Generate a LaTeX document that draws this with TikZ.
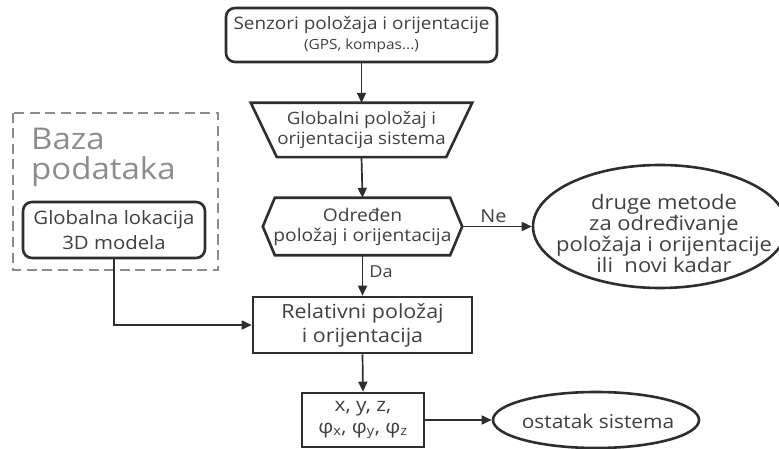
\documentclass[tikz,border=0pt]{standalone}
\usepackage{fontspec}
\setmainfont{Open Sans}[FakeStretch=1.1]
\usetikzlibrary{arrows.meta,shapes.geometric}
\definecolor{ink}{HTML}{2E2E2E}
\definecolor{txt}{HTML}{404040}
\definecolor{dbgray}{HTML}{8C8C8C}
% font size with a fixed baseline distance
\newcommand{\fsz}[2]{\fontsize{#1}{#2}\selectfont\lineskiplimit=-100pt\relax}
% centred text that does not change the size of its shape (#1 = horizontal, #2 = vertical offset)
\newcommand{\ovaltext}[3]{\smash{\makebox[0pt]{\hspace*{#1}\raisebox{#2}{\parbox[c]{300pt}{\centering #3}}}}}
\tikzset{
  x=1pt, y=-1pt,
  box/.style={draw=ink, line width=2.6pt, inner sep=0pt, text=txt, align=center,
    font=\fsz{17.5}{20}},
  roundbox/.style={box, rounded corners=9pt},
  plain/.style={inner sep=0pt, text=txt, align=center, font=\fsz{17.5}{20}},
  oval/.style={ellipse, draw=ink, line width=2.6pt, inner sep=0pt, text=txt},
  flow/.style={draw=ink, line width=1.7pt, -{Triangle[length=10pt,width=9pt]}},
  lbl/.style={text=txt, inner sep=3pt},
}
\begin{document}
\begin{tikzpicture}
\useasboundingbox (0,0) rectangle (779,449);

% sensors
\node[roundbox, minimum width=271pt, minimum height=54pt, font=\fsz{17.2}{20}]
  (senz) at (361.5,35)
  {Senzori položaja i orijentacije\\{\fsz{14}{16}(GPS, kompas...)}};

% global pose (inverted trapezium drawn around a plain node)
\node[plain, minimum width=221pt, minimum height=54pt, font=\fsz{17}{20}]
  (glob) at (361.5,130) {Globalni položaj i\\orijentacija sistema};
\draw[ink, line width=2.6pt, line join=miter]
  (glob.north west) -- (glob.north east) -- ([xshift=-26pt]glob.south east)
  -- ([xshift=26pt]glob.south west) -- cycle;

% decision hexagon
\node[plain, minimum width=199pt, minimum height=57pt] (hex) at (362.5,226.5)
  {Određen\\položaj i orijentacija};
\draw[ink, line width=2.6pt, line join=miter]
  (hex.west) -- ([xshift=12pt]hex.north west) -- ([xshift=-12pt]hex.north east)
  -- (hex.east) -- ([xshift=-12pt]hex.south east) -- ([xshift=12pt]hex.south west) -- cycle;

% alternative methods
\node[oval, minimum width=254pt, minimum height=123pt, font=\fsz{20}{19}]
  (alt) at (660,226.5)
  {\ovaltext{8pt}{-12pt}{druge metode\\za određivanje\\položaja i orijentacije\\ili\ \ novi kadar}};

% database group
\draw[dbgray, line width=1.5pt, dash pattern=on 10pt off 5.5pt]
  (13,113) rectangle (218,270);
\node[anchor=base west, inner sep=0pt, text=dbgray, align=left, font=\fsz{30}{30}]
  (baza) at (31,180) {Baza\\podataka};
\node[roundbox, minimum width=182pt, minimum height=56pt, font=\fsz{18.5}{25}]
  (gl3d) at (114,230) {Globalna lokacija\\3D modela};

% relative pose
\node[box, minimum width=219pt, minimum height=56pt, font=\fsz{19.5}{24}]
  (rel) at (362.5,325) {Relativni položaj\\i orijentacija};

% output values
\node[box, minimum width=122pt, minimum height=54pt, font=\fsz{19}{22}] (xyz) at (363,420)
  {x, y, z,\\φ\textsubscript{x}, φ\textsubscript{y}, φ\textsubscript{z}};

% rest of the system
\node[oval, minimum width=206pt, minimum height=56pt, font=\fsz{19}{20}]
  (rest) at (596,420) {\ovaltext{4pt}{-6pt}{ostatak sistema}};

% connectors
\draw[flow] (senz.south) -- (glob.north);
\draw[flow] (glob.south) -- (hex.north);
\draw[flow] (hex.east) -- node[lbl, above, pos=0.45, font=\fsz{18}{20}] {Ne} (alt.west);
\draw[flow] (hex.south) -- node[lbl, right, pos=0.4, inner sep=6pt, font=\fsz{16.5}{18}] {Da} (rel.north);
\draw[flow] (gl3d.south) |- (rel.west);
\draw[flow] (rel.south) -- (xyz.north);
\draw[flow] (xyz.east) -- (rest.west);
\end{tikzpicture}
\end{document}
